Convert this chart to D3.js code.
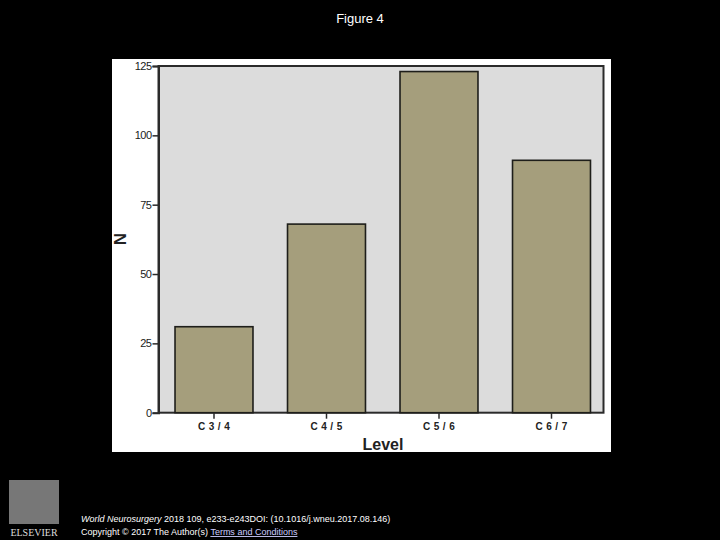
<!DOCTYPE html>
<html>
<head>
<meta charset="utf-8">
<script src="https://cdn.jsdelivr.net/npm/d3@7"></script>
<style>
  body { margin: 0; background: #000; }
  svg { display: block; }
</style>
</head>
<body>
<svg id="viz" width="720" height="540"></svg>
<script>
// values
var levels = ["C 3 / 4", "C 4 / 5", "C 5 / 6", "C 6 / 7"];
var counts = [31, 68, 123, 91];
var yTicks = [0, 25, 50, 75, 100, 125];

var svg = d3.select("#viz");

svg.append("rect").attr("width", 720).attr("height", 540).attr("fill", "#000");

svg.append("text")
    .attr("x", 360).attr("y", 23)
    .attr("text-anchor", "middle")
    .attr("fill", "#fff")
    .style("font-family", "Liberation Sans, Arial")
    .style("font-size", "13px")
    .text("Figure 4");

// white figure panel
svg.append("rect")
    .attr("x", 112).attr("y", 59)
    .attr("width", 499).attr("height", 393)
    .attr("fill", "#fff");

var x = d3.scaleBand()
    .domain(levels)
    .range([157.75, 607.75])
    .paddingInner(0.307)
    .paddingOuter(0.1535);

var y = d3.scaleLinear()
    .domain([0, 125])
    .range([412.7, 66]);

// plot background
svg.append("rect")
    .attr("x", 158.5).attr("y", y(125))
    .attr("width", 445).attr("height", y(0) - y(125))
    .attr("fill", "#dcdcdc")
    .attr("stroke", "#2a2a2a")
    .attr("stroke-width", 2);

svg.append("g").selectAll("rect")
    .data(counts)
    .enter()
    .append("rect")
    .attr("x", function (d, i) { return x(levels[i]); })
    .attr("y", function (d) { return y(d); })
    .attr("width", x.bandwidth())
    .attr("height", function (d) { return y(0) - y(d); })
    .attr("fill", "#a59e7c")
    .attr("stroke", "#1e1e1a")
    .attr("stroke-width", 1.6);

var yAxis = svg.append("g")
    .attr("transform", "translate(158.5,0)")
    .call(d3.axisLeft(y).tickValues(yTicks).tickSize(6).tickPadding(1));
yAxis.select(".domain").attr("stroke", "#2a2a2a").attr("stroke-width", 2);
yAxis.selectAll(".tick line").attr("stroke", "#2a2a2a").attr("stroke-width", 1.5);
yAxis.selectAll("text")
    .attr("fill", "#1a1a1a")
    .style("font-family", "Liberation Sans, Arial")
    .style("font-size", "11px")
    .style("letter-spacing", "-0.5px");

var xAxis = svg.append("g")
    .attr("transform", "translate(0," + y(0) + ")")
    .call(d3.axisBottom(x).tickSize(6).tickPadding(4));
xAxis.select(".domain").remove();
xAxis.selectAll(".tick line").attr("stroke", "#2a2a2a").attr("stroke-width", 1.5);
xAxis.selectAll("text")
    .attr("fill", "#222")
    .style("font-family", "Liberation Sans, Arial")
    .style("font-weight", "bold")
    .style("font-size", "10px")
    .style("letter-spacing", "0.4px");

svg.append("text")
    .attr("x", 383).attr("y", 450)
    .attr("text-anchor", "middle")
    .attr("fill", "#222")
    .style("font-family", "Liberation Sans, Arial")
    .style("font-weight", "bold")
    .style("font-size", "16px")
    .text("Level");

svg.append("text")
    .attr("transform", "translate(126,239) rotate(-90)")
    .attr("text-anchor", "middle")
    .attr("fill", "#222")
    .style("font-family", "Liberation Sans, Arial")
    .style("font-weight", "bold")
    .style("font-size", "17px")
    .text("N");

// footer: publisher mark and citation
var logo = svg.append("g");
logo.append("rect")
    .attr("x", 9).attr("y", 480).attr("width", 50).attr("height", 44)
    .attr("fill", "#777");
logo.append("text")
    .attr("x", 34).attr("y", 536)
    .attr("text-anchor", "middle")
    .attr("fill", "#ddd")
    .style("font-family", "Liberation Serif, serif")
    .style("font-size", "10px")
    .text("ELSEVIER");

var foot = svg.append("text")
    .attr("x", 81).attr("y", 522)
    .attr("fill", "#fff")
    .style("font-family", "Liberation Sans, Arial")
    .style("font-size", "9px");
foot.append("tspan").style("font-style", "italic").text("World Neurosurgery");
foot.append("tspan").text(" 2018 109, e233-e243DOI: (10.1016/j.wneu.2017.08.146)");

var copy = svg.append("text")
    .attr("x", 81).attr("y", 535)
    .attr("fill", "#fff")
    .style("font-family", "Liberation Sans, Arial")
    .style("font-size", "9px");
copy.append("tspan").text("Copyright © 2017 The Author(s) ");
copy.append("tspan").attr("fill", "#ccccff").style("text-decoration", "underline").text("Terms and Conditions");
</script>
</body>
</html>
